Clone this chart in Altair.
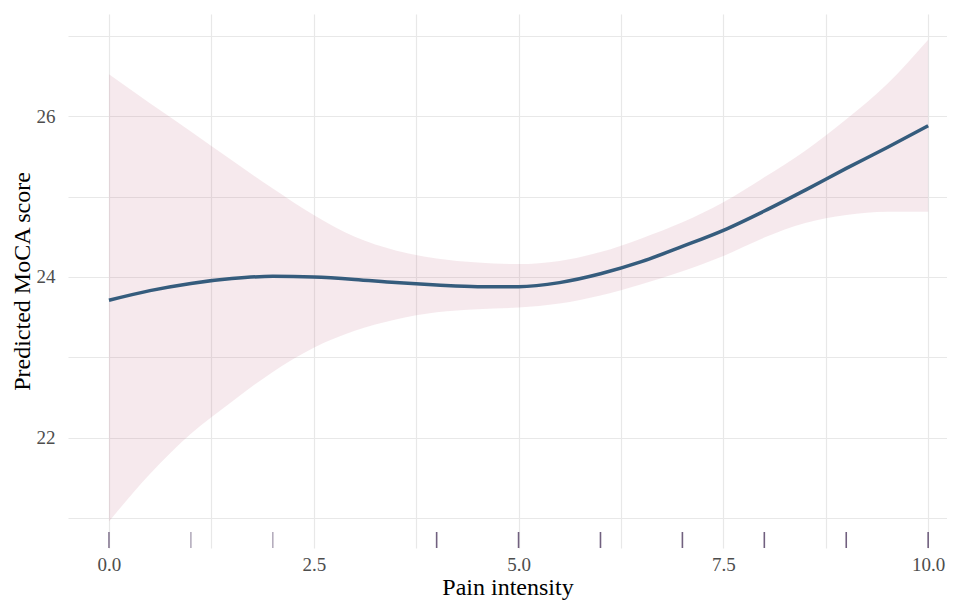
import altair as alt
import pandas as pd

# Predicted curve
pain = [0, 0.5, 1, 1.5, 2, 2.5, 3, 3.5, 4, 4.5, 5, 5.5, 6, 6.5, 7, 7.5, 8, 8.5, 9, 9.5, 10]
fit = [23.71, 23.83, 23.92, 23.98, 24.01, 24.00, 23.97, 23.93, 23.90, 23.88, 23.88,
       23.93, 24.04, 24.19, 24.38, 24.58, 24.82, 25.08, 25.35, 25.61, 25.88]
upper = [26.52, 26.16, 25.81, 25.45, 25.10, 24.77, 24.50, 24.33, 24.23, 24.18, 24.16,
         24.20, 24.31, 24.48, 24.68, 24.93, 25.24, 25.57, 25.96, 26.40, 26.95]
lower = [20.96, 21.55, 22.05, 22.45, 22.82, 23.12, 23.33, 23.47, 23.56, 23.60, 23.62,
         23.67, 23.77, 23.91, 24.07, 24.26, 24.49, 24.67, 24.77, 24.81, 24.81]

# Rug of observed pain values
rug_x = [0, 1, 2, 4, 5, 6, 7, 8, 9, 10]
rug_opacity = [0.8, 0.5, 0.5, 0.97, 0.97, 0.97, 0.97, 0.97, 0.97, 0.97]

x_grid = [0, 1.25, 2.5, 3.75, 5, 6.25, 7.5, 8.75, 10]
y_grid = [21, 22, 23, 24, 25, 26, 27]

curve = pd.DataFrame({"pain": pain, "fit": fit, "upper": upper, "lower": lower})
rug = pd.DataFrame({"pain": rug_x, "op": rug_opacity})

W, H = 879, 534
FONT = "Liberation Serif"

xscale = alt.Scale(domain=[-0.5, 10.23], nice=False, zero=False)
yscale = alt.Scale(domain=[20.63, 27.27], nice=False, zero=False)

xaxis = alt.Axis(values=x_grid, format=".1f",
                 labelExpr="datum.value % 2.5 == 0 ? datum.label : ''",
                 title="Pain intensity", labelPadding=7, titlePadding=1)
yaxis = alt.Axis(values=y_grid, format="d",
                 labelExpr="datum.value % 2 == 0 ? datum.label : ''",
                 title="Predicted MoCA score", labelPadding=13, titlePadding=2)

band = alt.Chart(curve).mark_area(color="#C06C84", opacity=0.15, interpolate="monotone").encode(
    x=alt.X("pain:Q", scale=xscale, axis=xaxis),
    y=alt.Y("lower:Q", scale=yscale, axis=yaxis),
    y2="upper:Q",
)

line = alt.Chart(curve).mark_line(color="#355C7D", strokeWidth=3.5, interpolate="monotone").encode(
    x=alt.X("pain:Q", scale=xscale),
    y=alt.Y("fit:Q", scale=yscale),
)

rugs = alt.Chart(rug).mark_rule(color="#6C5B7B", strokeWidth=1.6).encode(
    x=alt.X("pain:Q", scale=xscale),
    y=alt.value(H - 16),
    y2=alt.value(H),
    opacity=alt.Opacity("op:Q", scale=None, legend=None),
)

chart = (band + line + rugs).properties(
    width=W, height=H,
    background="white",
    autosize=alt.AutoSizeParams(type="none"),
    padding={"left": 60, "top": 6, "right": 0, "bottom": 53},
).configure_view(stroke=None).configure_axis(
    domain=False, ticks=False,
    grid=True, gridColor="#e8e8e8", gridWidth=1.2,
    labelFont=FONT, labelFontSize=19, labelColor="#4d4d4d",
    titleFont=FONT, titleFontSize=24, titleColor="#000000", titleFontWeight="normal",
)

chart.save("out.html", embed_options={"renderer": "svg", "actions": False})
